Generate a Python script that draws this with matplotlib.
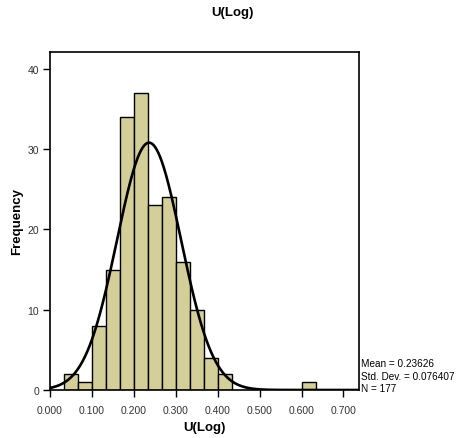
import numpy as np
import matplotlib
matplotlib.use("Agg")
import matplotlib.pyplot as plt

plt.rcParams['font.family'] = ['Liberation Sans', 'DejaVu Sans']

# Histogram data (bin width 1/30)
bin_left = [1, 2, 3, 4, 5, 6, 7, 8, 9, 10, 11, 12, 18]  # in units of 1/30
counts = [2, 1, 8, 15, 34, 37, 23, 24, 16, 10, 4, 2, 1]
bin_width = 1 / 30

mean = 0.23626
std = 0.076407
n = 177

xticks = [0.0, 0.1, 0.2, 0.3, 0.4, 0.5, 0.6, 0.7]
yticks = [0, 10, 20, 30, 40]

fig = plt.figure(figsize=(4.64, 4.39), dpi=100)
ax = fig.add_axes([50 / 464, 48 / 439, 309 / 464, 338 / 439])

lefts = np.array(bin_left) * bin_width
ax.bar(lefts, counts, width=bin_width, align='edge', color='#d4cf99',
       edgecolor='black', linewidth=1.0)

# normal curve scaled to counts
xs = np.linspace(0, 0.737, 400)
ys = n * bin_width / (std * np.sqrt(2 * np.pi)) * np.exp(-0.5 * ((xs - mean) / std) ** 2)
ax.plot(xs, ys, color='black', linewidth=1.9)

ax.set_xlim(0, 0.737)
ax.set_ylim(0, 42.1)
ax.set_xticks(xticks)
ax.set_xticklabels([f"{t:.3f}" for t in xticks])
ax.set_yticks(yticks)
ax.tick_params(direction='out', length=5, width=1, labelsize=7.5, colors='black',
               labelcolor='#333333')
ax.tick_params(axis='x', pad=6)
ax.tick_params(axis='y', pad=3)
for s in ax.spines.values():
    s.set_linewidth(1.2)

ax.set_xlabel('U(Log)', fontsize=9.5, fontweight='bold', labelpad=4)
ax.set_ylabel('Frequency', fontsize=9.5, fontweight='bold', labelpad=3)
fig.text(0.5, 1 - 13 / 439, 'U(Log)', ha='center', va='center', fontsize=9.5, fontweight='bold')

stats = f"Mean = {mean}\nStd. Dev. = {std}\nN = {n}"
fig.text(361 / 464, 1 - 394 / 439, stats, ha='left', va='bottom', fontsize=7.2, linespacing=1.3)

fig.savefig('out.png', dpi=100)
